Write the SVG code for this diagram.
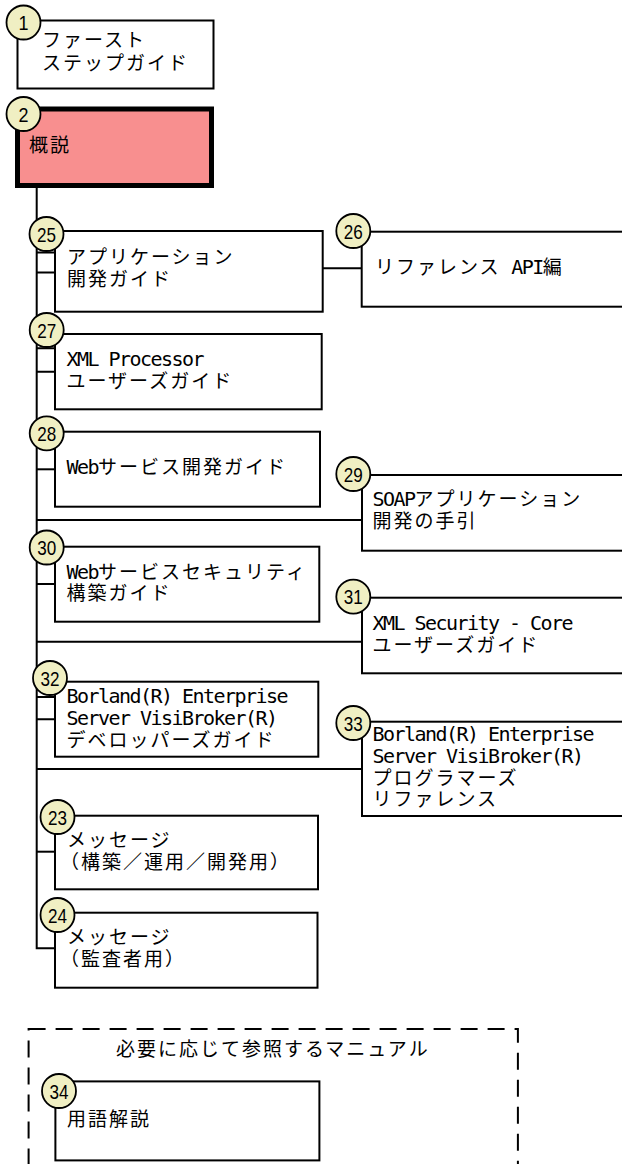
<svg xmlns="http://www.w3.org/2000/svg" width="622" height="1164" viewBox="0 0 622 1164">
<style>
.box{fill:#fff;stroke:#000;stroke-width:2}
.main{fill:#F88F8F;stroke:#000;stroke-width:5}
.num{fill:#F0EFC3;stroke:#000;stroke-width:1.8}
.n{font-family:"Liberation Sans",Arial,sans-serif;font-size:21px;text-anchor:middle;fill:#000}
.t{font-family:"Noto Sans CJK JP",sans-serif;font-size:19px;letter-spacing:2px;fill:#000}
.m{font-family:"DejaVu Sans Mono",monospace;font-size:20px;letter-spacing:-1.54px}
.c{stroke:#000;stroke-width:2;fill:none}
.dash{fill:none;stroke:#000;stroke-width:2;stroke-dasharray:17 10}
</style>
<rect fill="#fff" x="0" y="0" width="622" height="1164"/>
<g id="connectors" class="c">
<path d="M36.7,188 V948.3 H55"/>
<path d="M36.7,252.5 H55 M36.7,272.5 H55"/>
<path d="M322.7,268.3 H361.7"/>
<path d="M36.7,348.3 H55 M36.7,371.7 H55"/>
<path d="M36.7,469.3 H55"/>
<path d="M36.7,520 H362"/>
<path d="M36.7,584 H55"/>
<path d="M36.7,641.7 H362"/>
<path d="M36.7,697 H55 M36.7,719.3 H55"/>
<path d="M36.7,769 H362"/>
<path d="M36.7,851.7 H55"/>
</g>
<g id="node1">
<rect class="box" x="17.5" y="20.5" width="196" height="68"/>
<text class="t" x="42" y="47">ファースト</text>
<text class="t" x="42" y="69.5">ステップガイド</text>
<circle class="num" cx="23.5" cy="22.5" r="17"/>
<text class="n" x="23.5" y="30" textLength="10" lengthAdjust="spacingAndGlyphs">1</text>
</g>
<g id="node2">
<rect class="main" x="17.5" y="109" width="194" height="76.5"/>
<text class="t" x="29" y="152">概説</text>
<circle class="num" cx="23.5" cy="114" r="17"/>
<text class="n" x="23.5" y="121.5" textLength="10" lengthAdjust="spacingAndGlyphs">2</text>
</g>
<g id="node25">
<rect class="box" x="55" y="231" width="267.7" height="80.7"/>
<text class="t" x="67" y="264">アプリケーション</text>
<text class="t" x="67" y="286">開発ガイド</text>
<circle class="num" cx="46.5" cy="234" r="17"/>
<text class="n" x="46.5" y="241.5" textLength="19" lengthAdjust="spacingAndGlyphs">25</text>
</g>
<g id="node26">
<rect class="box" x="361.7" y="231.7" width="290" height="75"/>
<text class="t" x="375" y="274">リファレンス<tspan class="m"> API</tspan>編</text>
<circle class="num" cx="353.3" cy="231" r="17"/>
<text class="n" x="353.3" y="238.5" textLength="19" lengthAdjust="spacingAndGlyphs">26</text>
</g>
<g id="node27">
<rect class="box" x="55" y="334" width="266.7" height="75.3"/>
<text class="t" x="66.5" y="366"><tspan class="m">XML Processor</tspan></text>
<text class="t" x="66.5" y="388">ユーザーズガイド</text>
<circle class="num" cx="46.7" cy="330" r="17"/>
<text class="n" x="46.7" y="337.5" textLength="19" lengthAdjust="spacingAndGlyphs">27</text>
</g>
<g id="node28">
<rect class="box" x="55" y="431.7" width="265" height="75"/>
<text class="t" x="66.5" y="474"><tspan class="m">Web</tspan>サービス開発ガイド</text>
<circle class="num" cx="46.7" cy="433.3" r="17"/>
<text class="n" x="46.7" y="440.8" textLength="19" lengthAdjust="spacingAndGlyphs">28</text>
</g>
<g id="node29">
<rect class="box" x="362" y="475" width="290" height="75.7"/>
<text class="t" x="372.5" y="506"><tspan class="m">SOAP</tspan>アプリケーション</text>
<text class="t" x="372.5" y="528">開発の手引</text>
<circle class="num" cx="353.3" cy="474" r="17"/>
<text class="n" x="353.3" y="481.5" textLength="19" lengthAdjust="spacingAndGlyphs">29</text>
</g>
<g id="node30">
<rect class="box" x="55" y="546.7" width="264.3" height="75"/>
<text class="t" x="66.5" y="579"><tspan class="m">Web</tspan>サービスセキュリティ</text>
<text class="t" x="66.5" y="600">構築ガイド</text>
<circle class="num" cx="46.7" cy="547.5" r="17"/>
<text class="n" x="46.7" y="555" textLength="19" lengthAdjust="spacingAndGlyphs">30</text>
</g>
<g id="node31">
<rect class="box" x="362" y="597.7" width="290" height="75.6"/>
<text class="t" x="372.5" y="630"><tspan class="m">XML Security - Core</tspan></text>
<text class="t" x="372.5" y="652">ユーザーズガイド</text>
<circle class="num" cx="353.3" cy="596.7" r="17"/>
<text class="n" x="353.3" y="604.2" textLength="19" lengthAdjust="spacingAndGlyphs">31</text>
</g>
<g id="node32">
<rect class="box" x="55" y="681.7" width="263.3" height="75"/>
<text class="t" x="66.5" y="703"><tspan class="m">Borland(R) Enterprise</tspan></text>
<text class="t" x="66.5" y="725"><tspan class="m">Server VisiBroker(R)</tspan></text>
<text class="t" x="66.5" y="747">デベロッパーズガイド</text>
<circle class="num" cx="50" cy="678" r="17"/>
<text class="n" x="50" y="685.5" textLength="19" lengthAdjust="spacingAndGlyphs">32</text>
</g>
<g id="node33">
<rect class="box" x="362" y="721.7" width="290" height="94.3"/>
<text class="t" x="372.5" y="741"><tspan class="m">Borland(R) Enterprise</tspan></text>
<text class="t" x="372.5" y="763"><tspan class="m">Server VisiBroker(R)</tspan></text>
<text class="t" x="372.5" y="785">プログラマーズ</text>
<text class="t" x="372.5" y="806">リファレンス</text>
<circle class="num" cx="353.3" cy="723" r="17"/>
<text class="n" x="353.3" y="730.5" textLength="19" lengthAdjust="spacingAndGlyphs">33</text>
</g>
<g id="node23">
<rect class="box" x="55" y="815.7" width="263" height="73.6"/>
<text class="t" x="67" y="847">メッセージ</text>
<text class="t" x="60" y="869">（構築／運用／開発用）</text>
<circle class="num" cx="57.5" cy="817" r="17"/>
<text class="n" x="57.5" y="824.5" textLength="19" lengthAdjust="spacingAndGlyphs">23</text>
</g>
<g id="node24">
<rect class="box" x="55" y="912.7" width="262.5" height="75"/>
<text class="t" x="67" y="944">メッセージ</text>
<text class="t" x="60" y="966">（監査者用）</text>
<circle class="num" cx="57.5" cy="915" r="17"/>
<text class="n" x="57.5" y="922.5" textLength="19" lengthAdjust="spacingAndGlyphs">24</text>
</g>
<g id="optional">
<rect class="dash" x="28.6" y="1029" width="489.3" height="200"/>
<text class="t" x="116" y="1056">必要に応じて参照するマニュアル</text>
</g>
<g id="node34">
<rect class="box" x="55.4" y="1081.4" width="264" height="79"/>
<text class="t" x="67" y="1126">用語解説</text>
<circle class="num" cx="59" cy="1091" r="17"/>
<text class="n" x="59" y="1098.5" textLength="19" lengthAdjust="spacingAndGlyphs">34</text>
</g>
</svg>
